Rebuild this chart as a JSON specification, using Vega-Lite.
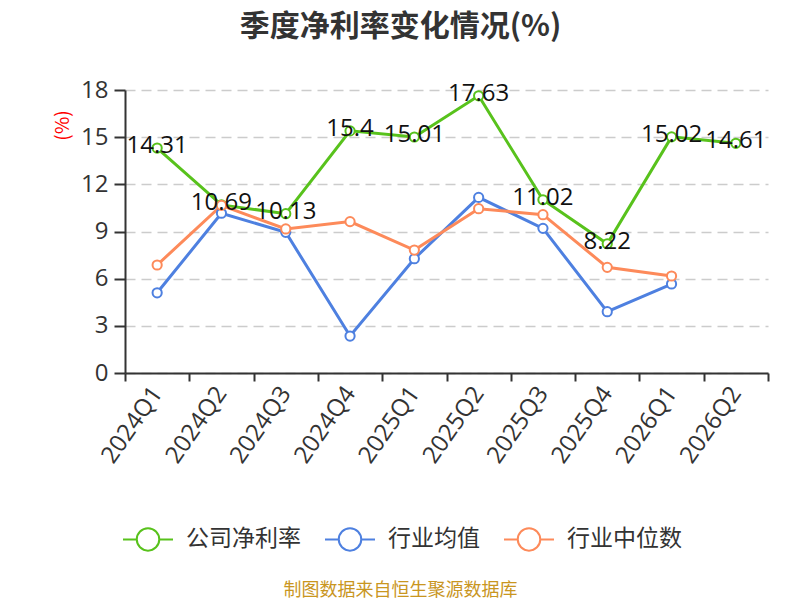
{
  "$schema": "https://vega.github.io/schema/vega-lite/v6.json",
  "width": 643,
  "height": 283,
  "autosize": {"type": "none"},
  "padding": {"left": 125, "top": 90, "right": 32, "bottom": 227},
  "background": "white",
  "title": {
    "text": "季度净利率变化情况(%)",
    "font": "Noto Sans CJK SC",
    "fontSize": 30,
    "fontWeight": "bold",
    "color": "#333333",
    "anchor": "middle",
    "dx": -46,
    "offset": 36
  },
  "config": {
    "view": {"stroke": null},
    "font": "Open Sans, Noto Sans CJK SC",
    "axis": {
      "labelFont": "Open Sans, Noto Sans CJK SC",
      "labelFontSize": 24,
      "labelColor": "#333333",
      "domainColor": "#333333",
      "domainWidth": 2,
      "tickColor": "#333333",
      "tickWidth": 2
    }
  },
  "data": {
    "values": [
      {"q": "2024Q1", "s": "公司净利率", "v": 14.31},
      {"q": "2024Q2", "s": "公司净利率", "v": 10.69},
      {"q": "2024Q3", "s": "公司净利率", "v": 10.13},
      {"q": "2024Q4", "s": "公司净利率", "v": 15.4},
      {"q": "2025Q1", "s": "公司净利率", "v": 15.01},
      {"q": "2025Q2", "s": "公司净利率", "v": 17.63},
      {"q": "2025Q3", "s": "公司净利率", "v": 11.02},
      {"q": "2025Q4", "s": "公司净利率", "v": 8.22},
      {"q": "2026Q1", "s": "公司净利率", "v": 15.02},
      {"q": "2026Q2", "s": "公司净利率", "v": 14.61},
      {"q": "2024Q1", "s": "行业均值", "v": 5.1},
      {"q": "2024Q2", "s": "行业均值", "v": 10.16},
      {"q": "2024Q3", "s": "行业均值", "v": 8.95},
      {"q": "2024Q4", "s": "行业均值", "v": 2.35},
      {"q": "2025Q1", "s": "行业均值", "v": 7.27},
      {"q": "2025Q2", "s": "行业均值", "v": 11.17},
      {"q": "2025Q3", "s": "行业均值", "v": 9.2},
      {"q": "2025Q4", "s": "行业均值", "v": 3.9},
      {"q": "2026Q1", "s": "行业均值", "v": 5.66},
      {"q": "2024Q1", "s": "行业中位数", "v": 6.87},
      {"q": "2024Q2", "s": "行业中位数", "v": 10.66},
      {"q": "2024Q3", "s": "行业中位数", "v": 9.16},
      {"q": "2024Q4", "s": "行业中位数", "v": 9.63},
      {"q": "2025Q1", "s": "行业中位数", "v": 7.82},
      {"q": "2025Q2", "s": "行业中位数", "v": 10.45},
      {"q": "2025Q3", "s": "行业中位数", "v": 10.07},
      {"q": "2025Q4", "s": "行业中位数", "v": 6.72},
      {"q": "2026Q1", "s": "行业中位数", "v": 6.17}
    ]
  },
  "encoding": {
    "x": {
      "field": "q",
      "type": "nominal",
      "sort": null,
      "scale": {"type": "band", "paddingInner": 0, "paddingOuter": 0},
      "axis": {
        "title": "制图数据来自恒生聚源数据库",
        "titleFont": "Noto Sans CJK SC",
        "titleFontSize": 18,
        "titleFontWeight": "normal",
        "titleColor": "#c9961f",
        "titleX": 275,
        "titleY": 217,
        "titleAlign": "center",
        "titleBaseline": "middle",
        "labelAngle": -55,
        "labelAlign": "right",
        "labelBaseline": "middle",
        "labelPadding": 8,
        "tickSize": 8,
        "tickBand": "extent",
        "grid": false
      }
    },
    "y": {
      "field": "v",
      "type": "quantitative",
      "scale": {"domain": [0, 18]},
      "axis": {
        "values": [0, 3, 6, 9, 12, 15, 18],
        "title": "(%)",
        "titleFont": "Noto Sans CJK SC",
        "titleFontSize": 19,
        "titleFontWeight": "normal",
        "titleColor": "#ff0000",
        "titleAngle": -90,
        "titleX": -63,
        "titleY": 35,
        "titleAlign": "center",
        "titleBaseline": "middle",
        "tickSize": 11,
        "labelPadding": 6,
        "grid": true,
        "gridColor": "#cccccc",
        "gridDash": [10, 6],
        "gridWidth": 1.5
      }
    }
  },
  "layer": [
    {
      "mark": {
        "type": "line",
        "strokeWidth": 3,
        "point": {"filled": false, "fill": "white", "size": 85, "strokeWidth": 2, "opacity": 1}
      },
      "encoding": {
        "color": {
          "field": "s",
          "type": "nominal",
          "scale": {
            "domain": ["公司净利率", "行业均值", "行业中位数"],
            "range": ["#58c21c", "#4e80e0", "#fd8a5a"]
          },
          "legend": {
            "title": null,
            "orient": "none",
            "direction": "horizontal",
            "legendX": -3,
            "legendY": 423,
            "symbolType": "M-1,0L-0.45,0M0.45,0L1,0M-0.45,0A0.45,0.45,0,1,1,0.45,0A0.45,0.45,0,1,1,-0.45,0Z",
            "symbolSize": 2500,
            "symbolStrokeWidth": 2,
            "symbolFillColor": "white",
            "labelFont": "Noto Sans CJK SC",
            "labelFontSize": 23,
            "labelColor": "#333333",
            "labelOffset": 12,
            "columnPadding": 20,
            "labelLimit": 300
          }
        }
      }
    },
    {
      "transform": [{"filter": "datum.s === '公司净利率'"}],
      "mark": {
        "type": "text",
        "fontSize": 24,
        "font": "Open Sans",
        "color": "#111111",
        "baseline": "middle",
        "dy": -2
      },
      "encoding": {"text": {"field": "v", "type": "quantitative"}}
    }
  ]
}
